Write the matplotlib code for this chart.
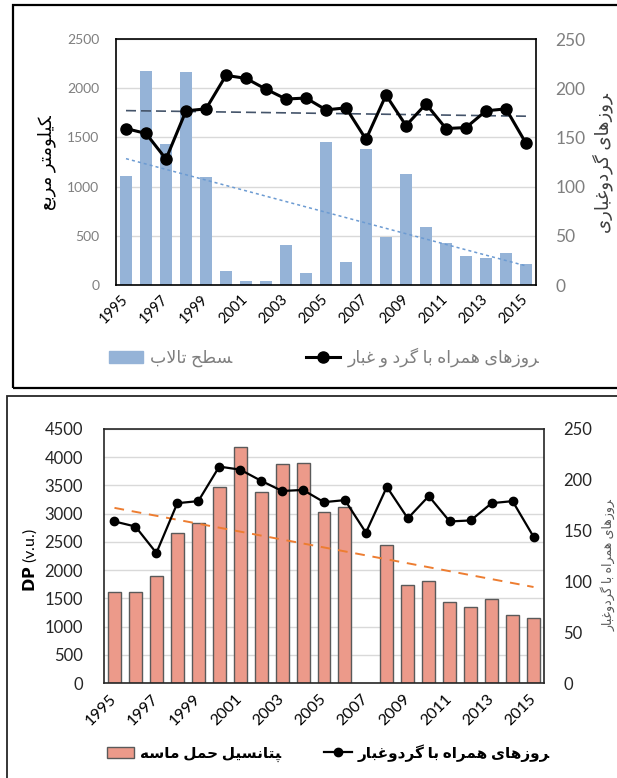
import matplotlib
matplotlib.use('Agg')
import matplotlib.pyplot as plt
from matplotlib.patches import Rectangle
from matplotlib.lines import Line2D
import numpy as np

plt.rcParams['font.family'] = ['Lato', 'DejaVu Sans']

years = list(range(1995, 2016))
year_labels = [str(y) for y in years[::2]]

# surface area of the wetland (km2)
wetland_area = [1110, 2170, 1430, 2165, 1100, 145, 40, 40, 403, 119, 1450,
                231, 1379, 485, 1128, 586, 430, 295, 277, 325, 213]
# number of dusty days per year
dust_days = [159, 154, 128, 177, 179, 213, 210, 199, 189, 190, 178,
             180, 148, 193, 162, 184, 159, 160, 177, 179, 144]
# sand drift potential, no value for 2007
drift_potential = [1610, 1610, 1890, 2660, 2840, 3480, 4180, 3380, 3880, 3890,
                   3030, 3110, np.nan, 2440, 1730, 1800, 1430, 1355, 1490,
                   1205, 1160]

# --- minimal persian shaping: contextual forms + visual (reversed) order ---
DUAL = 'بپتحسطعغکگلمنهی'
FORMS = {
    'ا': (0xFE8D, 0xFE8E),
    'د': (0xFEA9, 0xFEAA),
    'ر': (0xFEAD, 0xFEAE),
    'ز': (0xFEAF, 0xFEB0),
    'و': (0xFEED, 0xFEEE),
    'ب': (0xFE8F, 0xFE90, 0xFE91, 0xFE92),
    'پ': (0xFB56, 0xFB57, 0xFB58, 0xFB59),
    'ت': (0xFE95, 0xFE96, 0xFE97, 0xFE98),
    'ح': (0xFEA1, 0xFEA2, 0xFEA3, 0xFEA4),
    'س': (0xFEB1, 0xFEB2, 0xFEB3, 0xFEB4),
    'ط': (0xFEC1, 0xFEC2, 0xFEC3, 0xFEC4),
    'ع': (0xFEC9, 0xFECA, 0xFECB, 0xFECC),
    'غ': (0xFECD, 0xFECE, 0xFECF, 0xFED0),
    'ک': (0xFB8E, 0xFB8F, 0xFB90, 0xFB91),
    'گ': (0xFB92, 0xFB93, 0xFB94, 0xFB95),
    'ل': (0xFEDD, 0xFEDE, 0xFEDF, 0xFEE0),
    'م': (0xFEE1, 0xFEE2, 0xFEE3, 0xFEE4),
    'ن': (0xFEE5, 0xFEE6, 0xFEE7, 0xFEE8),
    'ه': (0xFEE9, 0xFEEA, 0xFEEB, 0xFEEC),
    'ی': (0xFBFC, 0xFBFD, 0xFBFE, 0xFBFF),
}


def fa(text):
    out = []
    i = 0
    n = len(text)
    while i < n:
        c = text[i]
        prev = text[i - 1] if i > 0 else ''
        joins_prev = prev in DUAL and c in FORMS
        if c == 'ل' and i + 1 < n and text[i + 1] == 'ا':
            out.append(chr(0xFEFC if joins_prev else 0xFEFB))
            i += 2
            continue
        if c not in FORMS:
            out.append(c)
            i += 1
            continue
        nxt = text[i + 1] if i + 1 < n else ''
        joins_next = c in DUAL and nxt in FORMS
        f = FORMS[c]
        if joins_prev and joins_next:
            g = f[3]
        elif joins_prev:
            g = f[1]
        elif joins_next:
            g = f[2]
        else:
            g = f[0]
        out.append(chr(g))
        i += 1
    return ''.join(reversed(out))


W, H = 617, 778
fig = plt.figure(figsize=(W / 100, H / 100), dpi=100)


def px_axes(l, t, r, b):
    return fig.add_axes([l / W, 1 - b / H, (r - l) / W, (b - t) / H])


x = np.arange(len(years))
gray = '#7f7f7f'

# ================= top chart: wetland area vs dusty days =================
ax = px_axes(116, 39, 536, 285)
ax.bar(x, wetland_area, width=0.6, color='#95b3d7', zorder=2)
ok = ~np.isnan(np.array(wetland_area, float))
k, b = np.polyfit(x[ok], np.array(wetland_area)[ok], 1)
ax.plot(x, k * x + b, ls=(0, (2, 2)), color='#6c9bd2', lw=1.1, zorder=3)
ax.set_xlim(-0.5, 20.5)
ax.set_ylim(0, 2500)
ax.set_yticks(range(0, 2501, 500))
ax.tick_params(axis='y', length=0, pad=12, labelsize=10, labelcolor=gray)
ax.set_xticks(x[::2])
ax.set_xticklabels(year_labels, rotation=45, ha='right', va='center',
                   rotation_mode='anchor', fontsize=10.5)
ax.tick_params(axis='x', length=0, pad=9)
ax.grid(axis='y', color='#d9d9d9', lw=1, zorder=0)
ax.set_axisbelow(True)
for s in ax.spines.values():
    s.set_color('black')
    s.set_linewidth(1.2)

ax2 = ax.twinx()
ax2.plot(x, dust_days, color='black', lw=2.2, marker='o', ms=8, zorder=4)
k2, b2 = np.polyfit(x, dust_days, 1)
ax2.plot(x, k2 * x + b2, ls=(0, (6, 3)), color='#44546a', lw=1.2, zorder=3)
ax2.set_ylim(0, 250)
ax2.set_yticks(range(0, 251, 50))
ax2.tick_params(axis='y', length=0, pad=14, labelsize=12.5, labelcolor=gray)
ax2.spines[:].set_visible(False)

fig.text(47 / W, 1 - 163 / H, fa('کیلومتر مربع'), rotation=90, fontsize=13,
         ha='center', va='center', color='black')
fig.text(603 / W, 1 - 163 / H, fa('روزهای گردوغباری'), rotation=90,
         fontsize=13, ha='center', va='center', color='#404040')

h_bar = Rectangle((0, 0), 1, 1, color='#95b3d7')
h_line = Line2D([], [], color='black', lw=2.2, marker='o', ms=8)
leg = ax.legend([h_bar, h_line],
                [fa('سطح تالاب'), fa('روزهای همراه با گرد و غبار')],
                loc='center', bbox_to_anchor=(0.495, -0.295), ncol=2,
                frameon=False, fontsize=12.5, handlelength=2.0,
                columnspacing=4.2, handletextpad=0.4)
for t in leg.get_texts():
    t.set_color(gray)

# ================= bottom chart: drift potential vs dusty days =================
bx = px_axes(104, 429, 544, 683)
bx.bar(x, drift_potential, width=0.62, color='#ec9a8a', edgecolor='#5a5a5a',
       lw=1, zorder=2)
dp = np.array(drift_potential, float)
ok = ~np.isnan(dp)
k3, b3 = np.polyfit(x[ok], dp[ok], 1)
bx.plot(x, k3 * x + b3, ls=(0, (5, 4)), color='#ed7d31', lw=1.4, zorder=3)
bx.set_xlim(-0.5, 20.5)
bx.set_ylim(0, 4500)
bx.set_yticks(range(0, 4501, 500))
bx.tick_params(axis='y', length=0, pad=15, labelsize=12, labelcolor='#262626')
bx.set_xticks(x[::2])
bx.set_xticklabels(year_labels, rotation=45, ha='right', va='center',
                   rotation_mode='anchor', fontsize=11.5)
bx.tick_params(axis='x', length=0, pad=10)
bx.grid(axis='y', color='#d9d9d9', lw=1, zorder=0)
bx.set_axisbelow(True)
for s in bx.spines.values():
    s.set_color('#262626')
    s.set_linewidth(1.2)

bx2 = bx.twinx()
bx2.plot(x, dust_days, color='black', lw=1.6, marker='o', ms=6, zorder=4)
bx2.set_ylim(0, 250)
bx2.set_yticks(range(0, 251, 50))
bx2.tick_params(axis='y', length=0, pad=14, labelsize=12, labelcolor='#262626')
bx2.spines[:].set_visible(False)

fig.text(30 / W, 1 - 560 / H, r'$\mathbf{DP}$ (v.u.)', rotation=90,
         fontsize=11.5, ha='center', va='center', color='black')
fig.text(608 / W, 1 - 565 / H, fa('روزهای همراه با گردوغبار'), rotation=90,
         fontsize=9, ha='center', va='center', color='#595959')

h_bar2 = Rectangle((0, 0), 1, 1, facecolor='#ec9a8a', edgecolor='#5a5a5a')
h_line2 = Line2D([], [], color='black', lw=1.6, marker='o', ms=6)
leg2 = bx.legend([h_bar2, h_line2],
                 [fa('پتانسیل حمل ماسه'), fa('روزهای همراه با گردوغبار')],
                 loc='center', bbox_to_anchor=(0.51, -0.275), ncol=2,
                 frameon=False, handlelength=1.8, columnspacing=2.8,
                 handletextpad=0.4, prop={'size': 11, 'weight': 'bold'})

# panel frames
fig.add_artist(Rectangle((13 / W, 1 - 388 / H), 1.0, 383 / H,
                         transform=fig.transFigure, fill=False,
                         edgecolor='black', lw=1.6))
fig.add_artist(Rectangle((7 / W, -0.05), 1.0, 1 - 396 / H + 0.05,
                         transform=fig.transFigure, fill=False,
                         edgecolor='#262626', lw=1.3))

fig.savefig('out.png', dpi=100)
